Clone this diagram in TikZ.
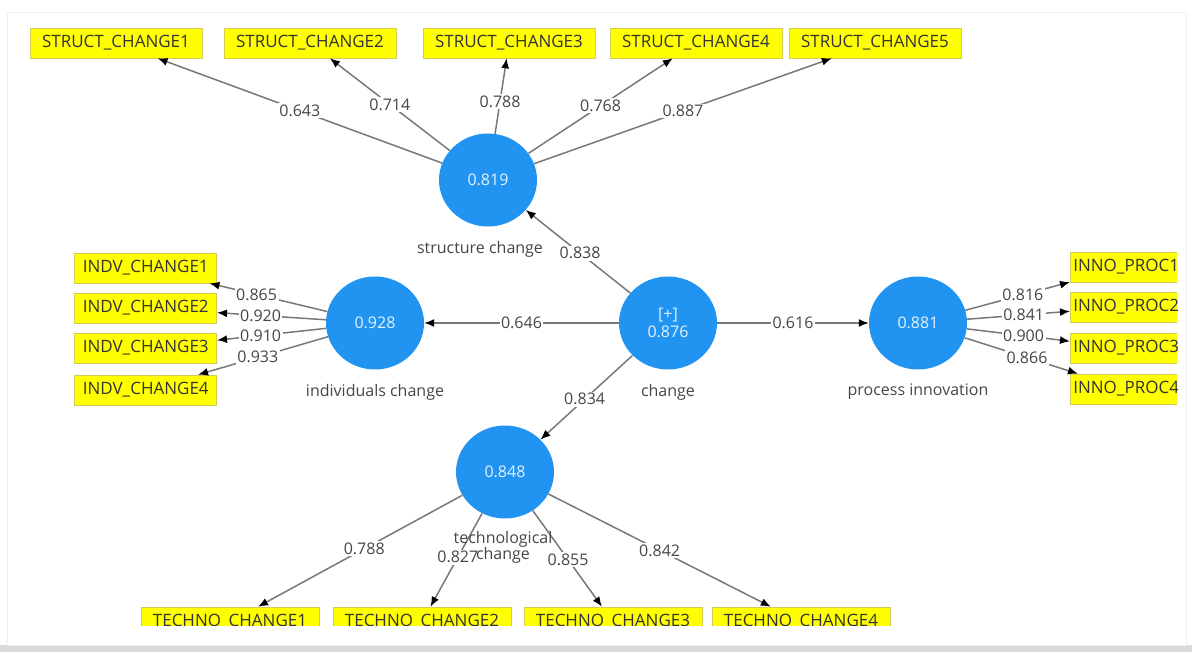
\documentclass[tikz,border=0pt]{standalone}
\usepackage{fontspec}
\setmainfont{Open Sans}
\usetikzlibrary{arrows.meta,positioning,shapes.geometric}
\definecolor{plsblue}{RGB}{33,148,242}
\definecolor{plsyellow}{RGB}{255,255,0}
\definecolor{plsline}{RGB}{120,120,120}
\definecolor{plstext}{RGB}{70,70,70}
\tikzset{%
  font=\fontsize{16}{20}\selectfont,>={Latex[length=10pt,width=8pt,color=black]},
  item/.style   = {rectangle, fill=plsyellow, draw=yellow!60!gray, line width=.6pt,
                   minimum height=30pt, inner xsep=12pt, text=black!80,
                   font=\fontsize{17}{20}\selectfont},
  latent/.style = {ellipse, fill=plsblue, draw=none, minimum width=98pt,
                   minimum height=93pt, text=white!88!plsblue, align=center},
  line/.style   = {draw=plsline, line width=1.5pt, ->}
}

\begin{document}
\begin{tikzpicture}[x=1pt,y=-1pt,
                    e/.style={fill=white,inner sep=1.5pt,text=plstext},%
                    n/.style={text=plstext,align=center,inner sep=1pt}]
  \useasboundingbox (0,0) rectangle (1192,652);
  \fill[gray!30] (0,645) rectangle (1192,652);
  \draw[gray!12] (7,12) rectangle (1186,645);
  \begin{scope}
  \clip (0,0) rectangle (1177,625);
  \node[latent] (structure) at (488,180) {0.819};
  \node[latent] (individuals) at (375,323) {0.928};
  \node[latent] (change) at (668,323) {[+]\\[-2pt]0.876};
  \node[latent] (process) at (918,323) {0.881};
  \node[latent] (technological) at (505,472) {0.848};
  \node[n,below=13pt of structure,xshift=-8pt] (structure-name) {structure change};
  \node[n,below=13pt of individuals] (individuals-name) {individuals change};
  \node[n,below=13pt of change] (change-name) {change};
  \node[n,below=13pt of process] (process-name) {process innovation};
  \foreach \i/\x/\w/\p in {1/116/0.643/.5,2/310/0.714/.5,3/509/0.788/.43,4/696/0.768/.5,5/875/0.887/.5}{
    \node[item] (sc\i) at (\x,43) {STRUCT\_CHANGE\i};
    \draw[line] (structure) -- node[e,pos=\p] {\w} (sc\i);
  }
  \foreach \i/\y/\w/\p in {1/268/0.865/.6,2/308/0.920/.6,3/348/0.910/.6,4/390/0.933/.54}{
    \node[item,anchor=east,inner xsep=8pt] (ic\i) at (217,\y) {INDV\_CHANGE\i};
    \draw[line] (individuals) -- node[e,pos=\p] {\w} (ic\i);
  }
  \foreach \i/\y/\w in {1/267/0.816,2/307/0.841,3/348/0.900,4/389/0.866}{
    \node[item,anchor=west,inner xsep=3pt] (ip\i) at (1070,\y) {INNO\_PROC\i};
    \draw[line] (process) -- node[e,pos=.55] {\w} (ip\i);
  }
  \foreach \i/\x/\w/\p in {1/230/0.788/.48,2/422/0.827/.47,3/613/0.855/.51,4/801/0.842/.5}{
    \node[item] (tc\i) at (\x,622) {TECHNO\_CHANGE\i};
    \draw[line] (technological) -- node[e,pos=\p] {\w} (tc\i);
  }
  \draw[line] (change) -- node[e] {0.646} (individuals);
  \draw[line] (change) -- node[e] {0.616} (process);
  \draw[line] (change) -- node[e,pos=.48] {0.838} (structure);
  \draw[line] (change) -- node[e,pos=.52] {0.834} (technological);
  \node[n,below=11pt of technological,xshift=-2pt] (technological-name)
    {technological\\[-4pt]change};
  \end{scope}
\end{tikzpicture}
\end{document}
